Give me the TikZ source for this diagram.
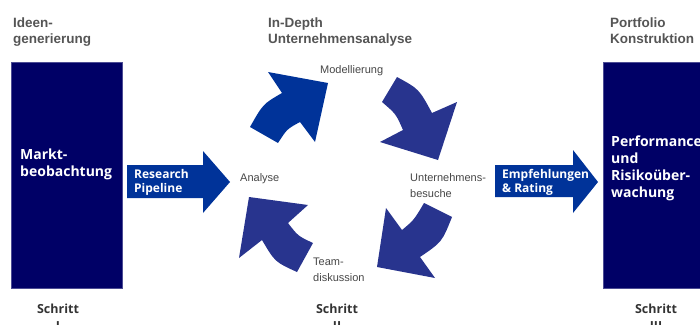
\documentclass[tikz,border=0pt]{standalone}
\usepackage{fontspec}
\setmainfont{Liberation Sans}
\newfontfamily\bxfont{Open Sans}
\definecolor{navy}{RGB}{0,0,102}
\definecolor{arrowblue}{RGB}{0,51,153}
\definecolor{cycblue}{RGB}{40,52,142}
\definecolor{hdrgray}{RGB}{85,85,85}
\definecolor{lblgray}{RGB}{70,70,70}
\definecolor{stepgray}{RGB}{51,51,51}
\begin{document}
\begin{tikzpicture}[x=1pt,y=-1pt,
  hdr/.style={anchor=base west, inner sep=0pt, align=left, text=hdrgray,
    font=\fontsize{13.5}{16.5}\selectfont\bfseries},
  lbl/.style={anchor=base west, inner sep=0pt, align=left, text=lblgray,
    font=\fontsize{11}{16}\selectfont},
  boxtxt/.style={anchor=base west, inner sep=0pt, align=left, text=white,
    font=\bxfont\bfseries\fontsize{14}{16.8}\selectfont},
  arrtxt/.style={anchor=base west, inner sep=0pt, align=left, text=white,
    font=\bxfont\bfseries\fontsize{12}{14.5}\selectfont},
  steptxt/.style={anchor=base, inner sep=0pt, align=center, text=stepgray,
    font=\bxfont\bfseries\fontsize{12.5}{17}\selectfont},
  bigbox/.style={fill=navy, draw=navy!70!white, line width=0.6pt, inner sep=0pt, anchor=north west},
  cyc/.style={fill=cycblue, draw=none},
  flat/.style={fill=arrowblue, draw=none}
]
\useasboundingbox (0,0) rectangle (700,324);
\clip (0,0) rectangle (700,324);

% headers (anchor = baseline of last line)
\node[hdr] (h1) at (13,43.5) {Ideen-\\generierung};
\node[hdr] (h2) at (268,43.5) {In-Depth\\Unternehmensanalyse};
\node[hdr] (h3) at (610,43.5) {Portfolio\\Konstruktion};

% big boxes
\node[bigbox, minimum width=111pt, minimum height=226pt] (lbox) at (11,62) {};
\node[bigbox, minimum width=110pt, minimum height=226pt] (rbox) at (603,62) {};
\node[boxtxt] (ltxt) at (20,176.5) {Markt-\\beobachtung};
\node[boxtxt] (rtxt) at (611,197) {Performance\\und\\Risiko\"uber-\\wachung};

% straight arrows
\fill[flat] (127,165) -- (203,165) -- (203,151) -- (230,182) -- (203,213) -- (203,198) -- (127,198) -- cycle;
\fill[flat] (495,165) -- (573,165) -- (573,150) -- (598,182) -- (573,213) -- (573,197) -- (495,197) -- cycle;
\node[arrtxt] (rp) at (134,192.5) {Research\\Pipeline};
\node[arrtxt] (er) at (502,192.5) {Empfehlungen\\\& Rating};

% cycle arrows
\fill[flat] (250,127) .. controls (263,104) .. (282,93) -- (268,72) -- (328,83)
  -- (315,142) -- (300,122) .. controls (287,129) .. (278,143) -- cycle;
\fill[cyc] (397,77) .. controls (419,89) .. (432,113) -- (457,102) -- (438,160)
  -- (380,142) -- (403,130) .. controls (396,114) .. (382,102) -- cycle;
\fill[cyc] (452,217) .. controls (442,242) .. (420,257) -- (435,278) -- (377,267)
  -- (386,208) -- (402,230) .. controls (414,220) .. (424,203) -- cycle;
\fill[cyc] (297,272) .. controls (275,262) .. (262,240) -- (239,258) -- (249,197)
  -- (308,205) -- (288,223) .. controls (298,236) .. (313,243) -- cycle;

% cycle labels
\node[lbl] (mod) at (320,73) {Modellierung};
\node[lbl] (ana) at (240,181) {Analyse};
\node[lbl] (ub) at (410,197) {Unternehmens-\\besuche};
\node[lbl] (td) at (313,281) {Team-\\diskussion};

% steps
\node[steptxt] (s1) at (58,330) {Schritt\\I};
\node[steptxt] (s2) at (337,330) {Schritt\\II};
\node[steptxt] (s3) at (656,330) {Schritt\\III};
\end{tikzpicture}
\end{document}
